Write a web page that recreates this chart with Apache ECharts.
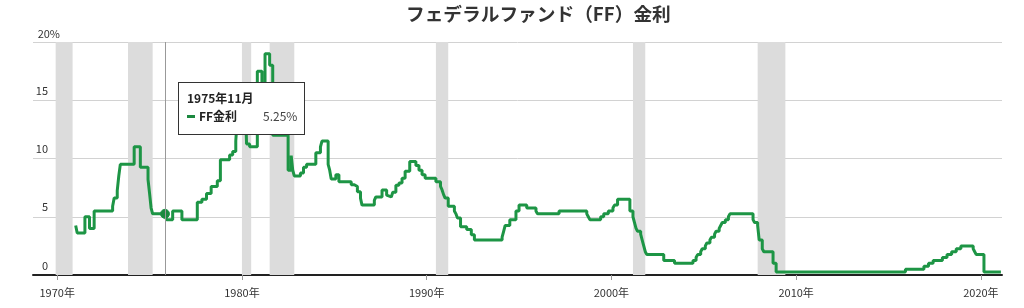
<!DOCTYPE html>
<html><head><meta charset="utf-8">
<script src="https://cdn.jsdelivr.net/npm/echarts@6.0.0/dist/echarts.min.js"></script>
<style>html,body{margin:0;padding:0;background:#fff}#c{width:1024px;height:308px}</style>
</head><body><div id="c"></div>
<script>
// change points of the rate (month, new level in %)
const dates = [
'1971-01','1971-02','1971-07','1971-10','1972-01','1973-01','1973-02','1973-04','1973-05','1973-06',
'1974-03','1974-07','1974-12','1975-01','1975-02','1975-03','1975-11','1975-12','1976-04','1976-10',
'1977-08','1977-11','1978-02','1978-05','1978-09','1978-11','1979-05','1979-07','1979-09','1979-10',
'1980-01','1980-03','1980-04','1980-06','1980-11','1981-02','1981-04','1981-07','1981-09','1982-07',
'1982-09','1982-10','1982-11','1983-03','1983-05','1983-07','1984-01','1984-04','1984-05','1984-09',
'1984-10','1984-11','1985-02','1985-04','1985-12','1986-02','1986-04','1986-06','1986-07','1987-03',
'1987-04','1987-08','1987-11','1987-12','1988-02','1988-03','1988-05','1988-07','1988-09','1988-11',
'1989-02','1989-06','1989-08','1989-10','1989-12','1990-07','1990-10','1990-11','1990-12','1991-01',
'1991-03','1991-07','1991-08','1991-09','1991-11','1992-03','1992-06','1992-08','1994-02','1994-03',
'1994-04','1994-07','1994-11','1995-01','1995-06','1995-12','1996-01','1997-03','1998-09','1998-10',
'1998-11','1999-06','1999-08','1999-11','2000-02','2000-03','2000-05','2001-01','2001-03','2001-04',
'2001-05','2001-06','2001-08','2001-09','2001-10','2001-11','2001-12','2002-11','2003-06','2004-06',
'2004-08','2004-09','2004-11','2004-12','2005-02','2005-03','2005-05','2005-06','2005-08','2005-09',
'2005-11','2005-12','2006-01','2006-03','2006-05','2006-06','2007-09','2007-10','2007-12','2008-01',
'2008-03','2008-04','2008-10','2008-12','2015-12','2016-12','2017-03','2017-06','2017-12','2018-03',
'2018-06','2018-09','2018-12','2019-08','2019-09','2019-10','2020-03','2021-02'
];
const rates = [
4.25,3.6,5.0,4.0,5.5,5.9,6.6,7.25,8.5,9.5,
11.0,9.25,8.2,7.0,5.75,5.25,5.25,4.75,5.5,4.75,
6.25,6.5,7.0,7.6,8.1,9.9,10.3,10.6,11.5,13.5,
14.0,16.0,11.25,11.0,17.5,15.5,19.0,18.0,12.0,9.0,
10.25,9.0,8.5,8.75,9.25,9.5,10.5,11.0,11.5,9.5,
9.0,8.25,8.6,8.0,7.75,7.6,7.15,6.6,6.0,6.4,
6.7,7.3,6.85,6.7,6.6,7.1,7.7,7.9,8.3,8.9,
9.75,9.4,9.0,8.6,8.3,8.0,7.6,7.3,6.9,6.6,
5.9,5.5,5.25,4.9,4.15,3.9,3.45,3.0,3.25,3.75,
4.25,4.75,5.5,6.0,5.75,5.5,5.25,5.5,5.25,5.0,
4.75,5.0,5.25,5.5,5.75,6.0,6.5,5.5,5.0,4.5,
4.0,3.75,3.5,3.0,2.5,2.0,1.75,1.25,1.0,1.25,
1.5,1.75,2.0,2.25,2.5,2.75,3.0,3.25,3.5,3.75,
4.0,4.25,4.5,4.75,5.0,5.25,4.75,4.5,4.25,3.0,
2.25,2.0,1.0,0.25,0.5,0.75,1.0,1.25,1.5,1.75,
2.0,2.25,2.5,2.25,2.0,1.75,0.25,0.25
];
const recessionStarts = ['1969-12','1973-11','1980-01','1981-07','1990-07','2001-03','2007-12'];
const recessionEnds   = ['1970-11','1975-03','1980-07','1982-11','1991-03','2001-11','2009-06'];
const xTickYears = [1970,1980,1990,2000,2010,2020];
const yTicks = [0,5,10,15,20];
const xMin = '1968-10';
const xMax = '2021-02';
const seriesName = 'FF金利';
const tooltipDate = '1975-11';
const titleText = 'フェデラルファンド（FF）金利';

const FONT = "'Noto Sans CJK JP','Noto Sans',sans-serif";
const GREEN = '#1b883f';
// 'yyyy-MM' -> fractional year on the x axis
function toYear(s) { const p = s.split('-'); return +p[0] + (+p[1] - 1) / 12; }

const chart = echarts.init(document.getElementById('c'));
const idx = dates.indexOf(tooltipDate);

const option = {
  animation: false,
  backgroundColor: '#fff',
  title: {
    text: titleText, left: 401, top: 0,
    textStyle: {fontSize: 18.7, fontWeight: 'bold', color: '#333', fontFamily: FONT}
  },
  grid: {left: 33, right: 22, top: 42, bottom: 33},
  tooltip: {
    trigger: 'axis',
    alwaysShowContent: true,
    transitionDuration: 0,
    position: [178, 82],
    backgroundColor: '#fff',
    borderColor: '#333',
    borderWidth: 1,
    borderRadius: 0,
    padding: [6, 7, 9, 8],
    extraCssText: 'box-shadow:none;',
    textStyle: {fontFamily: FONT, fontSize: 12, color: '#333'},
    axisPointer: {type: 'line', lineStyle: {color: '#999', width: 1, type: 'solid'}, label: {show: false}},
    formatter: function (params) {
      const p = params[0];
      const parts = dates[p.dataIndex].split('-');
      const head = parts[0] + '年' + (+parts[1]) + '月';
      const ff = FONT.replace(/'/g, '');
      return '<div style="font-family:' + ff + ';font-size:12px;line-height:18px;color:#222;font-weight:bold">' + head + '</div>' +
        '<div style="font-family:' + ff + ';font-size:12px;line-height:18px;color:#333;display:flex;align-items:center">' +
        '<span style="display:inline-block;width:8px;height:3px;background:' + GREEN + ';margin-right:4px"></span>' +
        '<b style="color:#222">' + p.seriesName + '</b>' +
        '<span style="margin-left:26px;color:#444">' + rates[p.dataIndex].toFixed(2) + '%</span></div>';
    }
  },
  xAxis: {
    type: 'value', min: toYear(xMin) - 0.06, max: toYear(xMax) + 0.06,
    axisLine: {show: true, lineStyle: {color: '#222', width: 2}},
    axisTick: {show: true, length: 5, lineStyle: {color: '#999'}, customValues: xTickYears},
    axisLabel: {
      customValues: xTickYears, margin: 12, color: '#333', fontSize: 11, fontFamily: FONT,
      formatter: v => v + '年'
    },
    splitLine: {show: false}
  },
  yAxis: {
    type: 'value', min: yTicks[0], max: yTicks[yTicks.length - 1], interval: 5,
    axisLine: {show: false}, axisTick: {show: false},
    splitLine: {lineStyle: {color: '#d2d2d2', width: 1}},
    axisLabel: {
      inside: true, margin: 27, align: 'right', verticalAlign: 'bottom',
      color: '#333', fontSize: 11, fontFamily: FONT,
      formatter: v => v === yTicks[yTicks.length - 1] ? '{b|' + v + '%}' : '{a|' + v + '}',
      rich: {
        a: {padding: [0, 12, 4, 0], color: '#333', fontSize: 11, fontFamily: FONT},
        b: {padding: [0, 0, 3, 0], color: '#333', fontSize: 11, fontFamily: FONT}
      }
    }
  },
  series: [{
    name: seriesName,
    type: 'line',
    step: 'end',
    z: 3,
    data: dates.map((d, i) => [toYear(d), rates[i]]),
    showSymbol: true,
    symbol: 'circle',
    symbolSize: (val, params) => params.dataIndex === idx ? 9 : 0,
    itemStyle: {color: GREEN, borderColor: GREEN, borderWidth: 1},
    lineStyle: {color: GREEN, width: 3},
    emphasis: {scale: false, lineStyle: {width: 3}, itemStyle: {color: GREEN}},
    markArea: {
      silent: true,
      itemStyle: {color: '#dcdcdc'},
      data: recessionStarts.map((s, i) => [{xAxis: toYear(s)}, {xAxis: toYear(recessionEnds[i])}])
    }
  }]
};
chart.setOption(option);
function showTip() { chart.dispatchAction({type: 'showTip', seriesIndex: 0, dataIndex: idx}); }
showTip();
setTimeout(showTip, 50);
</script></body></html>
